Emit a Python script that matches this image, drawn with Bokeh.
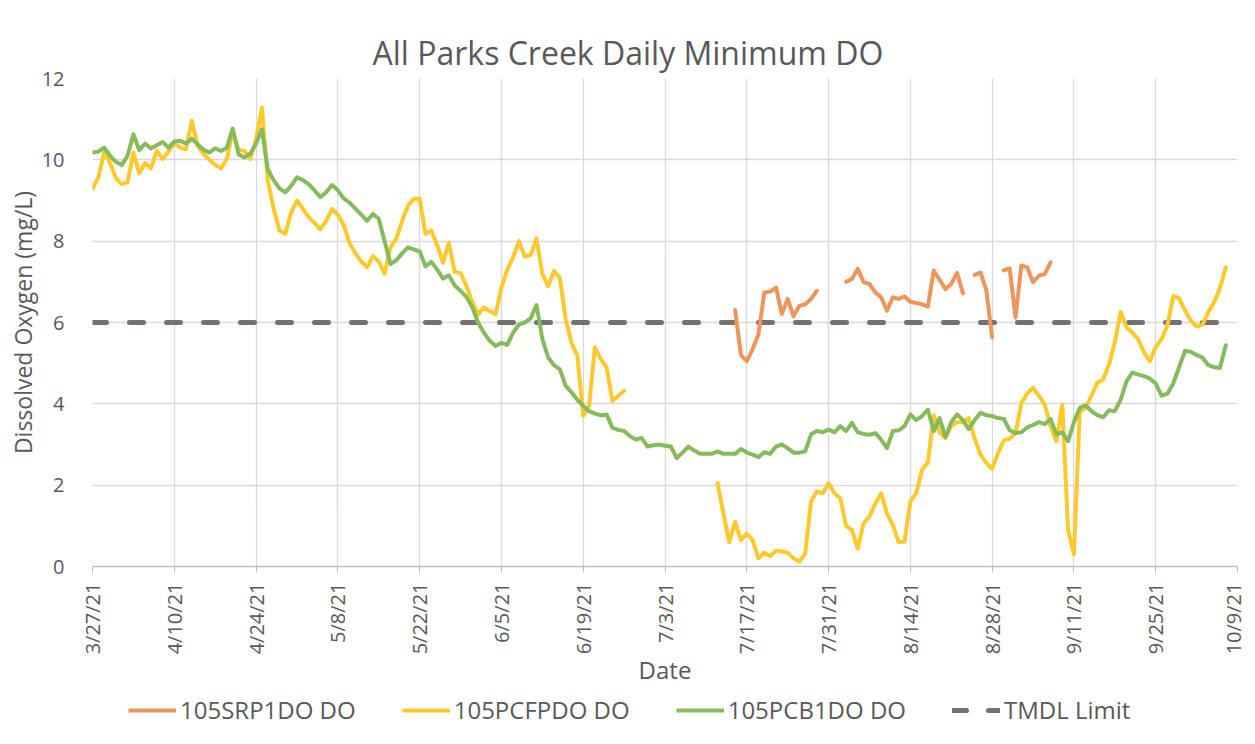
import math
import numpy as np
import pandas as pd
from bokeh.plotting import figure
from bokeh.layouts import column
from bokeh.models import (Range1d, FixedTicker, Legend, LegendItem, Title)
from bokeh.embed import file_html
from bokeh.resources import INLINE

# ---------------- data ----------------
series_start = "2021-03-27"

green_name = "105PCB1DO DO"
green_vals = [
    10.18, 10.2, 10.3, 10.1, 9.95, 9.87, 10.1, 10.63, 10.24, 10.4,
    10.28, 10.36, 10.44, 10.3, 10.45, 10.47, 10.4, 10.52, 10.38, 10.25,
    10.18, 10.28, 10.22, 10.3, 10.77, 10.14, 10.06, 10.15, 10.4, 10.75,
    9.77, 9.5, 9.3, 9.2, 9.36, 9.57, 9.5, 9.4, 9.25, 9.08,
    9.2, 9.38, 9.25, 9.05, 8.95, 8.8, 8.65, 8.5, 8.67, 8.55,
    8.0, 7.44, 7.53, 7.7, 7.85, 7.8, 7.75, 7.38, 7.49, 7.3,
    7.08, 7.16, 6.91, 6.78, 6.63, 6.38, 6.0, 5.75, 5.55, 5.42,
    5.5, 5.45, 5.75, 5.95, 6.0, 6.1, 6.43, 5.6, 5.14, 4.95,
    4.85, 4.44, 4.28, 4.1, 3.95, 3.82, 3.76, 3.72, 3.74, 3.41,
    3.36, 3.33, 3.2, 3.12, 3.16, 2.95, 2.98, 3.0, 2.97, 2.95,
    2.67, 2.8, 2.95, 2.85, 2.77, 2.77, 2.77, 2.83, 2.77, 2.77,
    2.77, 2.89, 2.8, 2.75, 2.69, 2.81, 2.77, 2.95, 3.0, 2.91,
    2.8, 2.8, 2.83, 3.25, 3.33, 3.3, 3.37, 3.3, 3.45, 3.33,
    3.53, 3.3, 3.26, 3.24, 3.28, 3.12, 2.91, 3.33, 3.35, 3.45,
    3.74, 3.6, 3.7, 3.86, 3.33, 3.65, 3.18, 3.55, 3.74, 3.6,
    3.38, 3.6, 3.78, 3.72, 3.7, 3.65, 3.63, 3.35, 3.28, 3.3,
    3.42, 3.48, 3.55, 3.5, 3.63, 3.25, 3.3, 3.08, 3.55, 3.9,
    3.96, 3.82, 3.72, 3.67, 3.84, 3.82, 4.1, 4.55, 4.77, 4.72,
    4.68, 4.62, 4.5, 4.2, 4.25, 4.5, 4.9, 5.3, 5.28, 5.2,
    5.14, 4.95, 4.9, 4.88, 5.44,
]

yellow_name = "105PCFPDO DO"
yellow_seg1_start = "2021-03-27"
yellow_seg1 = [
    9.28, 9.57, 10.18, 9.93, 9.55, 9.4, 9.45, 10.18, 9.67, 9.92,
    9.79, 10.22, 10.02, 10.2, 10.41, 10.3, 10.26, 10.96, 10.34, 10.15,
    10.0, 9.87, 9.79, 10.02, 10.71, 10.24, 10.22, 10.02, 10.51, 11.28,
    9.5, 8.8, 8.26, 8.18, 8.7, 9.0, 8.8, 8.59, 8.45, 8.29,
    8.5, 8.79, 8.65, 8.4, 7.95, 7.7, 7.5, 7.36, 7.63, 7.5,
    7.2, 7.85, 8.06, 8.5, 8.87, 9.04, 9.05, 8.18, 8.26, 7.9,
    7.47, 7.96, 7.24, 7.22, 6.9, 6.5, 6.2, 6.37, 6.28, 6.2,
    6.86, 7.3, 7.6, 8.0, 7.62, 7.66, 8.07, 7.2, 6.89, 7.27,
    7.1, 6.08, 5.5, 5.18, 3.7, 3.95, 5.39, 5.1, 4.9, 4.07,
    4.2, 4.32,
]
yellow_seg2_start = "2021-07-12"
yellow_seg2 = [
    2.05, 1.3, 0.6, 1.1, 0.65, 0.81, 0.65, 0.2, 0.34, 0.26,
    0.39, 0.37, 0.34, 0.2, 0.12, 0.32, 1.6, 1.85, 1.8, 2.05,
    1.8, 1.68, 1.0, 0.9, 0.44, 1.06, 1.23, 1.55, 1.8, 1.3,
    1.02, 0.6, 0.61, 1.6, 1.8, 2.38, 2.56, 3.72, 3.3, 3.16,
    3.45, 3.55, 3.55, 3.65, 3.15, 2.75, 2.55, 2.4, 2.79, 3.1,
    3.14, 3.28, 4.02, 4.25, 4.4, 4.2, 3.98, 3.45, 3.08, 3.98,
    0.9, 0.3, 3.8, 3.9, 4.2, 4.52, 4.6, 4.97, 5.51, 6.26,
    5.88, 5.75, 5.59, 5.26, 5.05, 5.4, 5.59, 5.92, 6.65, 6.6,
    6.3, 6.05, 5.9, 5.95, 6.25, 6.5, 6.85, 7.36,
]

orange_name = "105SRP1DO DO"
orange_start = "2021-07-15"
orange_vals = [
    6.31, 5.2, 5.05, 5.34, 5.71, 6.74, 6.76, 6.86, 6.21, 6.58,
    6.15, 6.41, 6.45, 6.58, 6.78, None, None, None, None, 7.0,
    7.07, 7.32, 6.99, 6.95, 6.74, 6.62, 6.29, 6.62, 6.58, 6.64,
    6.51, 6.48, 6.45, 6.39, 7.28, 7.05, 6.82, 6.95, 7.22, 6.72,
    None, 7.17, 7.23, 6.8, 5.63, None, 7.28, 7.33, 6.12, 7.4,
    7.36, 6.99, 7.15, 7.19, 7.48,
]

tmdl_name = "TMDL Limit"
tmdl_value = 6.0
tmdl_start = "2021-03-27"
tmdl_end = "2021-10-07"

tick_labels = ["3/27/21", "4/10/21", "4/24/21", "5/8/21", "5/22/21", "6/5/21",
               "6/19/21", "7/3/21", "7/17/21", "7/31/21", "8/14/21", "8/28/21",
               "9/11/21", "9/25/21", "10/9/21"]
y_ticks = [0, 2, 4, 6, 8, 10, 12]

title_text = "All Parks Creek Daily Minimum DO"
x_title = "Date"
y_title = "Dissolved Oxygen (mg/L)"

# ---------------- helpers ----------------
def arr(vals):
    return np.array([np.nan if v is None else v for v in vals], dtype=float)

green_x = pd.date_range(series_start, periods=len(green_vals))
green_y = arr(green_vals)

y1x = pd.date_range(yellow_seg1_start, periods=len(yellow_seg1))
y2x = pd.date_range(yellow_seg2_start, periods=len(yellow_seg2))
yellow_x = list(y1x) + [y1x[-1] + pd.Timedelta(days=1)] + list(y2x)
yellow_y = np.concatenate([arr(yellow_seg1), [np.nan], arr(yellow_seg2)])

orange_x = pd.date_range(orange_start, periods=len(orange_vals))
orange_y = arr(orange_vals)

tmdl_x = pd.to_datetime([tmdl_start, tmdl_end])
tmdl_y = [tmdl_value, tmdl_value]

tick_dates = pd.to_datetime(tick_labels, format="%m/%d/%y")
tick_ms = [float(t.value // 10**6) for t in tick_dates]

TXT = "#595959"
FONT = "Open Sans"
C_OR, C_YE, C_GR, C_TM = "#F0955A", "#FFC92C", "#86BB5B", "#767171"
TMDL_DASH = "14 23"

FIG_W = 1246

p = figure(frame_width=1145, frame_height=488, x_axis_type="datetime",
           output_backend="svg", toolbar_location=None,
           x_range=Range1d(tick_dates[0], tick_dates[-1]),
           y_range=Range1d(0, 12),
           min_border_left=92, min_border_right=9,
           min_border_top=78, min_border_bottom=120)
p.outline_line_color = None
p.background_fill_color = "white"
p.border_fill_color = "white"

p.title = Title(text=title_text, align="left", offset=280, text_font=FONT,
                text_font_size="32px", text_font_style="normal",
                text_color=TXT, standoff=10)

# grids
p.xgrid.ticker = FixedTicker(ticks=tick_ms)
p.ygrid.ticker = FixedTicker(ticks=y_ticks)
for g in (p.xgrid, p.ygrid):
    g.grid_line_color = "#D9D9D9"
    g.grid_line_width = 1.3

# x axis
xa = p.xaxis[0]
xa.ticker = FixedTicker(ticks=tick_ms)
xa.major_label_overrides = {ms: lab for ms, lab in zip(tick_ms, tick_labels)}
xa.major_label_orientation = math.pi / 2
xa.major_label_text_font = FONT
xa.major_label_text_font_size = "20px"
xa.major_label_text_color = TXT
xa.major_label_standoff = 10
xa.axis_line_color = "#BFBFBF"
xa.axis_line_width = 1.3
xa.major_tick_line_color = "#BFBFBF"
xa.major_tick_out = 6
xa.major_tick_in = 0
xa.minor_tick_line_color = None
xa.axis_label = x_title
xa.axis_label_text_font = FONT
xa.axis_label_text_font_size = "24px"
xa.axis_label_text_font_style = "normal"
xa.axis_label_text_color = TXT
xa.axis_label_standoff = -4

# y axis
ya = p.yaxis[0]
ya.ticker = FixedTicker(ticks=y_ticks)
ya.major_label_text_font = FONT
ya.major_label_text_font_size = "20px"
ya.major_label_text_color = TXT
ya.major_label_standoff = 22
ya.axis_line_color = None
ya.major_tick_line_color = None
ya.minor_tick_line_color = None
ya.axis_label = y_title
ya.axis_label_text_font = FONT
ya.axis_label_text_font_size = "23px"
ya.axis_label_text_font_style = "normal"
ya.axis_label_text_color = TXT
ya.axis_label_standoff = 0

# lines
p.line(tmdl_x, tmdl_y, line_color=C_TM, line_width=5,
       line_dash=TMDL_DASH, line_cap="round")
p.line(orange_x, orange_y, line_color=C_OR, line_width=4,
       line_join="round", line_cap="round")
p.line(yellow_x, yellow_y, line_color=C_YE, line_width=4,
       line_join="round", line_cap="round")
p.line(green_x, green_y, line_color=C_GR, line_width=4,
       line_join="round", line_cap="round")

# ---------------- legend strip (separate figure below) ----------------
lg = figure(width=FIG_W, height=52, output_backend="svg",
            toolbar_location=None, x_range=Range1d(0, 1), y_range=Range1d(0, 1),
            min_border=0)
lg.axis.visible = False
lg.grid.visible = False
lg.outline_line_color = None
lg.background_fill_color = "white"
lg.border_fill_color = "white"

# off-range stand-ins: only their legend swatches are seen
off = ([-9, -8], [-9, -8])
k_or = lg.line(*off, line_color=C_OR, line_width=4)
k_ye = lg.line(*off, line_color=C_YE, line_width=4)
k_gr = lg.line(*off, line_color=C_GR, line_width=4)
k_tm = lg.line(*off, line_color=C_TM, line_width=5, line_dash="14 22",
               line_cap="round")

legend = Legend(items=[
    LegendItem(label=orange_name, renderers=[k_or]),
    LegendItem(label=yellow_name, renderers=[k_ye]),
    LegendItem(label=green_name, renderers=[k_gr]),
    LegendItem(label=tmdl_name, renderers=[k_tm]),
], orientation="horizontal", location=(36, 15))
legend.label_text_font = FONT
legend.label_text_font_size = "24px"
legend.label_text_color = TXT
legend.glyph_width = 48
legend.label_standoff = 4
legend.spacing = 46
legend.border_line_color = None
legend.background_fill_alpha = 0
legend.padding = 4
legend.margin = 0
lg.add_layout(legend, "center")

layout = column(p, lg, spacing=0)

open("out.html", "w").write(file_html(layout, INLINE))
